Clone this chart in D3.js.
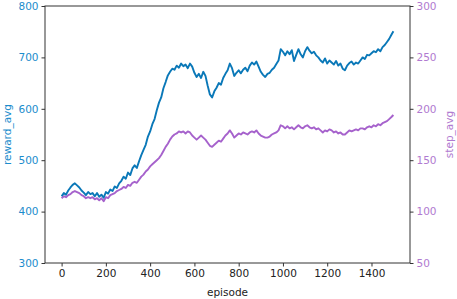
<!DOCTYPE html>
<html>
<head>
<meta charset="utf-8">
<script src="https://cdn.jsdelivr.net/npm/d3@7"></script>
<style>
  body { margin: 0; background: #fff; }
  svg { font-family: "DejaVu Sans", sans-serif; }
</style>
</head>
<body>
<script>
// episodes sampled every 10, plus the last one
var episodes = d3.range(0, 1500, 10).concat([1499]);

var rewardAvg = [
  430,436,433,441,447,452,455,451,447,441,
  437,432,438,434,436,430,436,429,433,427,
  438,435,443,440,449,446,455,460,468,464,
  476,471,484,490,485,498,510,520,530,546,
  556,570,580,597,612,622,640,652,665,672,
  678,676,684,680,688,683,686,679,688,682,
  670,662,668,660,672,664,645,628,622,634,
  641,650,647,660,668,675,688,679,664,670,
  675,669,676,680,673,684,690,686,692,682,
  672,666,662,668,670,676,680,687,694,716,
  711,704,712,706,714,693,705,716,706,700,
  712,720,713,708,711,704,700,694,690,698,
  688,694,690,686,693,684,688,678,675,684,
  689,692,686,690,688,694,700,697,705,704,
  708,712,710,716,712,720,724,730,736,744,
  751
];

var stepAvg = [
  113,115,114,116,117,119,120,119,118,116,
  115,113,114,113,114,112,113,111,113,110,
  114,113,116,117,118,120,121,122,124,123,
  126,125,128,129,128,131,134,136,139,141,
  144,146,148,150,152,155,159,163,166,170,
  173,175,176,178,177,178,176,178,177,174,
  172,170,172,174,172,170,167,164,163,165,
  167,169,168,171,174,176,179,176,172,174,
  176,175,177,176,175,177,178,177,179,176,
  174,173,172,172,173,175,176,177,179,184,
  183,181,183,181,182,180,182,184,182,181,
  183,184,182,181,182,180,181,179,177,179,
  178,180,179,177,178,176,177,175,175,177,
  179,178,179,180,179,181,181,180,182,183,
  182,184,183,185,184,186,187,188,190,192,
  194
];

var xTicks = [0, 200, 400, 600, 800, 1000, 1200, 1400];
var leftTicks = [300, 400, 500, 600, 700, 800];
var rightTicks = [50, 100, 150, 200, 250, 300];

var blue = "#0a78b8", blueText = "#1b8ccc";
var purple = "#a662cc", purpleText = "#b07ad0";

var W = 457, H = 299;
var m = {left: 45, right: 47, top: 6, bottom: 36};

var svg = d3.select("body").append("svg").attr("width", W).attr("height", H);

var x = d3.scaleLinear().domain([-75, 1574]).range([m.left, W - m.right]);
var yL = d3.scaleLinear().domain([300, 800]).range([H - m.bottom, m.top]);
var yR = d3.scaleLinear().domain([50, 300]).range([H - m.bottom, m.top]);

// lines
var lineL = d3.line().x(function(d,i){ return x(episodes[i]); }).y(function(d){ return yL(d); });
var lineR = d3.line().x(function(d,i){ return x(episodes[i]); }).y(function(d){ return yR(d); });

svg.append("path").datum(stepAvg).attr("d", lineR)
  .attr("fill", "none").attr("stroke", purple).attr("stroke-width", 1.9).attr("stroke-linejoin", "round");
svg.append("path").datum(rewardAvg).attr("d", lineL)
  .attr("fill", "none").attr("stroke", blue).attr("stroke-width", 1.9).attr("stroke-linejoin", "round");

// axes
var gx = svg.append("g").attr("transform", "translate(0," + (H - m.bottom) + ")")
  .call(d3.axisBottom(x).tickValues(xTicks).tickFormat(d3.format("d")).tickSize(3.5).tickPadding(3));
var gl = svg.append("g").attr("transform", "translate(" + m.left + ",0)")
  .call(d3.axisLeft(yL).tickValues(leftTicks).tickSize(3.5).tickPadding(3));
var gr = svg.append("g").attr("transform", "translate(" + (W - m.right) + ",0)")
  .call(d3.axisRight(yR).tickValues(rightTicks).tickSize(3.5).tickPadding(3));

[gx, gl, gr].forEach(function(g){
  g.select(".domain").remove();
  g.selectAll("line").attr("stroke", "#333");
  g.selectAll("text").attr("font-size", 10.5).attr("font-family", "DejaVu Sans");
});
gx.selectAll("text").attr("fill", "#222");
gl.selectAll("text").attr("fill", blueText);
gr.selectAll("text").attr("fill", purpleText);

// frame
svg.append("rect").attr("x", m.left).attr("y", m.top)
  .attr("width", W - m.left - m.right).attr("height", H - m.top - m.bottom)
  .attr("fill", "none").attr("stroke", "#333").attr("stroke-width", 1);

// labels
svg.append("text").attr("x", (m.left + W - m.right) / 2).attr("y", 296)
  .attr("text-anchor", "middle").attr("font-size", 10.5).attr("fill", "#222").text("episode");
svg.append("text").attr("transform", "translate(11," + (m.top + (H - m.top - m.bottom) / 2) + ") rotate(-90)")
  .attr("text-anchor", "middle").attr("font-size", 10.5).attr("fill", blueText).text("reward_avg");
svg.append("text").attr("transform", "translate(453," + (m.top + (H - m.top - m.bottom) / 2) + ") rotate(-90)")
  .attr("text-anchor", "middle").attr("font-size", 10.5).attr("fill", purpleText).text("step_avg");
</script>
</body>
</html>
